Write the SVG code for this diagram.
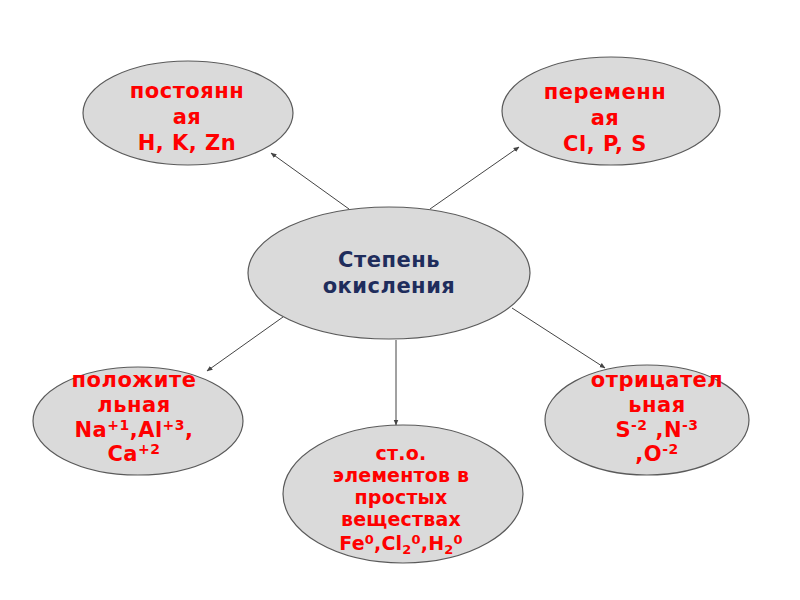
<svg xmlns="http://www.w3.org/2000/svg" width="800" height="600" viewBox="0 0 800 600">
<defs>
<style>
.node ellipse{fill:#dadada;stroke:#5a5a5a;stroke-width:1.2}
.t{font-family:"DejaVu Sans","Verdana",sans-serif;font-weight:bold;font-size:21px;letter-spacing:0.5px;fill:#ff0000;text-anchor:middle}
.s{font-size:19px;letter-spacing:0.2px}
.c{fill:#1f2d5c}
.sup{font-size:14px}
.sm{font-size:13px}
.conn line{stroke:#444;stroke-width:1;marker-end:url(#ah)}
</style>
<marker id="ah" viewBox="0 0 10 10" refX="9" refY="5" markerWidth="6" markerHeight="6" orient="auto" markerUnits="userSpaceOnUse">
<path d="M0,1 L10,5 L0,9 z" fill="#444"/>
</marker>
</defs>
<rect width="800" height="600" fill="#ffffff"/>
<g id="connectors" class="conn">
<line x1="349" y1="209" x2="271" y2="153"/>
<line x1="430" y1="209" x2="519" y2="147"/>
<line x1="283" y1="317" x2="207" y2="371"/>
<line x1="396" y1="340" x2="396" y2="425"/>
<line x1="512" y1="308" x2="605" y2="368"/>
</g>
<g id="node-center" class="node">
<ellipse cx="389" cy="273" rx="141" ry="66"/>
<text class="t c" x="389" y="267">Степень</text>
<text class="t c" x="389" y="293">окисления</text>
</g>
<g id="node-const" class="node">
<ellipse cx="188" cy="113" rx="105" ry="52"/>
<text class="t" x="187" y="98">постоянн</text>
<text class="t" x="187" y="124">ая</text>
<text class="t" x="187" y="150">H, K, Zn</text>
</g>
<g id="node-var" class="node">
<ellipse cx="611" cy="111" rx="109" ry="54"/>
<text class="t" x="605" y="99">переменн</text>
<text class="t" x="605" y="125">ая</text>
<text class="t" x="605" y="151">Cl, P, S</text>
</g>
<g id="node-pos" class="node">
<ellipse cx="138" cy="421" rx="105" ry="54"/>
<text class="t" x="134" y="387">положите</text>
<text class="t" x="134" y="412">льная</text>
<text class="t" x="134" y="437">Na<tspan class="sup" dy="-7">+1</tspan><tspan dy="7">,Al</tspan><tspan class="sup" dy="-7">+3</tspan><tspan dy="7">,</tspan></text>
<text class="t" x="134" y="461">Ca<tspan class="sup" dy="-7">+2</tspan></text>
</g>
<g id="node-simple" class="node">
<ellipse cx="403" cy="494" rx="120" ry="69"/>
<text class="t s" x="401" y="460">ст.о.</text>
<text class="t s" x="401" y="482">элементов в</text>
<text class="t s" x="401" y="504">простых</text>
<text class="t s" x="401" y="526">веществах</text>
<text class="t s" x="401" y="550">Fe<tspan class="sm" dy="-6">0</tspan><tspan dy="6">,Cl</tspan><tspan class="sm" dy="4">2</tspan><tspan class="sm" dy="-10">0</tspan><tspan dy="6">,H</tspan><tspan class="sm" dy="4">2</tspan><tspan class="sm" dy="-10">0</tspan></text>
</g>
<g id="node-neg" class="node">
<ellipse cx="647" cy="420" rx="102" ry="55"/>
<text class="t" x="657" y="387">отрицател</text>
<text class="t" x="657" y="412">ьная</text>
<text class="t" x="657" y="437">S<tspan class="sup" dy="-7">-2</tspan><tspan dy="7"> ,N</tspan><tspan class="sup" dy="-7">-3</tspan></text>
<text class="t" x="657" y="461">,O<tspan class="sup" dy="-7">-2</tspan></text>
</g>
</svg>
